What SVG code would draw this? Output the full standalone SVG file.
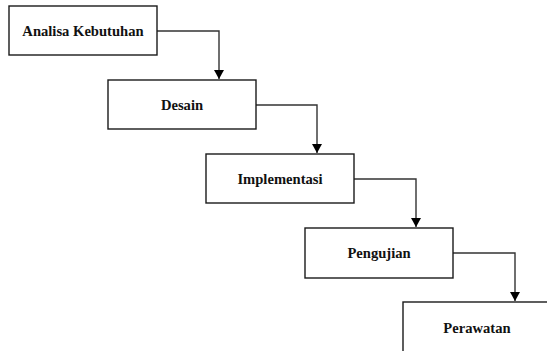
<svg xmlns="http://www.w3.org/2000/svg" width="547" height="351" viewBox="0 0 547 351">
<style>
.box{fill:#fff;stroke:#1a1a1a;stroke-width:1.4}
.lbl{font-family:"Liberation Serif","Times New Roman",serif;font-weight:bold;font-size:14.6px;fill:#111;text-anchor:middle}
.conn{fill:none;stroke:#333;stroke-width:1.4}
</style>
<defs>
<marker id="ah" markerWidth="10" markerHeight="10" refX="9" refY="5" orient="auto" markerUnits="userSpaceOnUse">
<path d="M0,0 L9,5 L0,10 z" fill="#000"/>
</marker>
</defs>
<rect width="547" height="351" fill="#fff"/>
<g id="connectors">
<path class="conn" d="M157,31 H219 V79" marker-end="url(#ah)"/>
<path class="conn" d="M256,105 H317 V153" marker-end="url(#ah)"/>
<path class="conn" d="M354,179 H416 V227" marker-end="url(#ah)"/>
<path class="conn" d="M453,253 H515 V301" marker-end="url(#ah)"/>
</g>
<g id="n1"><rect class="box" x="9" y="6" width="148" height="49"/><text class="lbl" x="83" y="36">Analisa Kebutuhan</text></g>
<g id="n2"><rect class="box" x="108" y="80" width="148" height="49"/><text class="lbl" x="182" y="110">Desain</text></g>
<g id="n3"><rect class="box" x="206" y="154" width="148" height="49"/><text class="lbl" x="280" y="184">Implementasi</text></g>
<g id="n4"><rect class="box" x="305" y="228" width="148" height="50"/><text class="lbl" x="379" y="258">Pengujian</text></g>
<g id="n5"><rect class="box" x="403" y="302" width="148" height="60"/><text class="lbl" x="477" y="333">Perawatan</text></g>
</svg>
